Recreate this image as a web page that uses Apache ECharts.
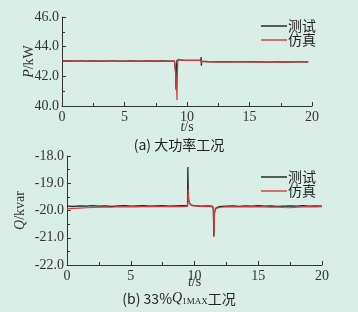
<!doctype html>
<html>
<head>
<meta charset="utf-8">
<title>P / Q 测试与仿真</title>
<script src="https://cdn.jsdelivr.net/npm/echarts@6/dist/echarts.min.js"></script>
<style>
  html, body { margin: 0; padding: 0; background: #daeee8; }
  #main { width: 358px; height: 312px; }
</style>
</head>
<body>
<div id="main"></div>
<script>
// x 轴刻度
var tTicks = [0, 5, 10, 15, 20];

// (a) 大功率工况 P/kW
var topTest = [[0,43.03],[0.5,43.04],[1,43.02],[1.5,43.05],[2,43.03],[2.5,43.04],[3,43.02],[3.5,43.03],[4,43.05],[4.5,43.03],[5,43.02],[5.5,43.04],[6,43.03],[6.5,43.02],[7,43.04],[7.5,43.03],[8,43.04],[8.5,43.02],[9,43.03],[9.06,43.02],[9.1,42.2],[9.12,41.1],[9.15,42.6],[9.2,43.1],[9.28,43.22],[9.4,43.1],[9.8,43.08],[10.3,43.07],[10.8,43.08],[11.1,43.07],[11.13,43.3],[11.15,42.72],[11.18,43.02],[11.3,42.99],[12,42.98],[12.5,42.99],[13,42.97],[13.5,42.99],[14,42.98],[14.5,42.97],[15,42.99],[15.5,42.98],[16,42.97],[16.5,42.95],[17,42.97],[17.5,42.98],[18,42.96],[18.5,42.98],[19,42.97],[19.7,42.98]];
var topSim = [[0,43.04],[0.5,43.03],[1,43.04],[1.5,43.03],[2,43.04],[2.5,43.02],[3,43.03],[3.5,43.04],[4,43.03],[4.5,43.02],[5,43.03],[5.5,43.03],[6,43.02],[6.5,43.04],[7,43.03],[7.5,43.04],[8,43.02],[8.5,43.03],[9,43.04],[9.12,43.0],[9.16,41.5],[9.2,40.4],[9.24,42.5],[9.28,43.15],[9.35,43.12],[9.8,43.08],[10.3,43.08],[10.8,43.07],[11.1,43.08],[11.14,43.2],[11.16,42.85],[11.2,43.0],[11.5,42.98],[12,42.99],[12.5,42.98],[13,42.98],[13.5,42.97],[14,42.99],[14.5,42.98],[15,42.97],[15.5,42.98],[16,42.96],[16.5,42.97],[17,42.98],[17.5,42.96],[18,42.97],[18.5,42.97],[19,42.98],[19.7,42.97]];

// (b) 33%Q1MAX 工况 Q/kvar
var botTest = [[0,-19.84],[0.5,-19.85],[1,-19.83],[1.5,-19.84],[2,-19.82],[2.5,-19.84],[3,-19.83],[3.5,-19.85],[4,-19.83],[4.5,-19.82],[5,-19.84],[5.5,-19.83],[6,-19.82],[6.5,-19.84],[7,-19.83],[7.5,-19.82],[8,-19.84],[8.5,-19.83],[9,-19.82],[9.45,-19.83],[9.48,-18.4],[9.52,-19.55],[9.6,-19.72],[9.75,-19.8],[10,-19.82],[10.5,-19.84],[11,-19.83],[11.4,-19.84],[11.47,-19.95],[11.52,-20.96],[11.56,-20.1],[11.65,-19.92],[11.9,-19.86],[12.5,-19.84],[13,-19.83],[13.5,-19.85],[14,-19.83],[14.5,-19.84],[15,-19.82],[15.5,-19.84],[16,-19.83],[16.5,-19.85],[17,-19.84],[17.5,-19.83],[18,-19.84],[18.5,-19.82],[19,-19.84],[19.5,-19.83],[20,-19.84]];
var botSim = [[0,-19.93],[0.5,-19.92],[1,-19.91],[1.5,-19.9],[2,-19.89],[2.5,-19.88],[3,-19.87],[3.5,-19.88],[4,-19.86],[4.5,-19.87],[5,-19.86],[5.5,-19.87],[6,-19.86],[6.5,-19.85],[7,-19.86],[7.5,-19.85],[8,-19.86],[8.5,-19.85],[9,-19.86],[9.46,-19.85],[9.5,-19.2],[9.54,-19.6],[9.62,-19.75],[9.8,-19.82],[10.5,-19.85],[11,-19.86],[11.45,-19.86],[11.5,-20.0],[11.53,-20.9],[11.58,-20.05],[11.7,-19.92],[12,-19.88],[12.5,-19.87],[13,-19.86],[13.5,-19.87],[14,-19.86],[14.5,-19.87],[15,-19.86],[15.5,-19.87],[16,-19.88],[16.5,-19.87],[17,-19.89],[17.5,-19.9],[18,-19.88],[18.5,-19.87],[19,-19.86],[19.5,-19.87],[20,-19.86]];

var serif = '"Liberation Serif", "DejaVu Serif", serif';
var cjk = '"Noto Sans CJK SC", sans-serif';
var axisColor = '#333';

function xAxisOf(gridIndex, gap) {
  return {
    type: 'value', gridIndex: gridIndex, min: tTicks[0], max: tTicks[tTicks.length - 1], interval: 5,
    name: '{i|t}/s', nameLocation: 'middle', nameGap: gap, nameMoveOverlap: false,
    nameTextStyle: { fontFamily: serif, fontSize: 14, color: axisColor, rich: { i: { fontFamily: serif, fontStyle: 'italic', fontSize: 14, color: axisColor } } },
    axisLine: { lineStyle: { color: axisColor, width: 1 } },
    axisTick: { inside: true, length: 4, lineStyle: { color: axisColor } },
    minorTick: { show: true, splitNumber: 2, length: 3, lineStyle: { color: axisColor } },
    axisLabel: { fontFamily: serif, fontSize: 14, color: axisColor, margin: 4 },
    splitLine: { show: false }
  };
}

function yAxisOf(gridIndex, min, max, step, nameRich, gap) {
  return {
    type: 'value', gridIndex: gridIndex, min: min, max: max, interval: step,
    name: nameRich, nameLocation: 'middle', nameGap: gap, nameRotate: 90, nameMoveOverlap: false,
    nameTextStyle: { fontFamily: serif, fontSize: 14, color: axisColor, rich: { i: { fontFamily: serif, fontStyle: 'italic', fontSize: 14, color: axisColor } } },
    axisLine: { show: true, lineStyle: { color: axisColor, width: 1 } },
    axisTick: { show: true, inside: true, length: 4, lineStyle: { color: axisColor } },
    minorTick: { show: true, splitNumber: 2, length: 3, lineStyle: { color: axisColor } },
    axisLabel: { fontFamily: serif, fontSize: 14, color: axisColor, margin: 3, formatter: function (v) { return v.toFixed(1); } },
    splitLine: { show: false }
  };
}

function legendOf(top) {
  return {
    orient: 'vertical', left: 256, top: top, itemGap: 0,
    itemWidth: 26, itemHeight: 1.4, icon: 'rect',
    textStyle: { fontFamily: cjk, fontSize: 14, color: '#222', padding: [0, 0, 0, -4] },
    data: ['测试', '仿真']
  };
}

function lineOf(name, data, color, idx) {
  return {
    name: name, type: 'line', data: data, xAxisIndex: idx, yAxisIndex: idx,
    showSymbol: false, symbol: 'none', animation: false,
    lineStyle: { color: color, width: 1.2 }, itemStyle: { color: color }
  };
}

var chart = echarts.init(document.getElementById('main'));
chart.setOption({
  backgroundColor: '#daeee8',
  animation: false,
  title: [
    { text: '(a) 大功率工况', left: 'center', top: 133,
      textStyle: { fontFamily: cjk, fontSize: 14, fontWeight: 'normal', color: '#222' } },
    { text: '(b) 33%{i|Q}{s|1MAX}工况', left: 'center', top: 286,
      textStyle: { fontFamily: cjk, fontSize: 14, fontWeight: 'normal', color: '#222',
        rich: { i: { fontFamily: serif, fontStyle: 'italic', fontSize: 14, color: '#222' },
                s: { fontFamily: serif, fontSize: 9, color: '#222', padding: [6, 0, 0, 0] } } } }
  ],
  legend: [legendOf(14), legendOf(165)],
  grid: [
    { left: 62, right: 46, top: 17, height: 89 },
    { left: 67, right: 36, top: 156, height: 109 }
  ],
  xAxis: [xAxisOf(0, 14), xAxisOf(1, 10)],
  yAxis: [
    yAxisOf(0, 40, 46, 2, '{i|P}/kW', 26),
    yAxisOf(1, -22, -18, 1, '{i|Q}/kvar', 40)
  ],
  series: [
    lineOf('测试', topTest, '#1e1e1e', 0),
    lineOf('仿真', topSim, '#d23a3a', 0),
    lineOf('测试', botTest, '#1e1e1e', 1),
    lineOf('仿真', botSim, '#d23a3a', 1)
  ]
});
</script>
</body>
</html>
